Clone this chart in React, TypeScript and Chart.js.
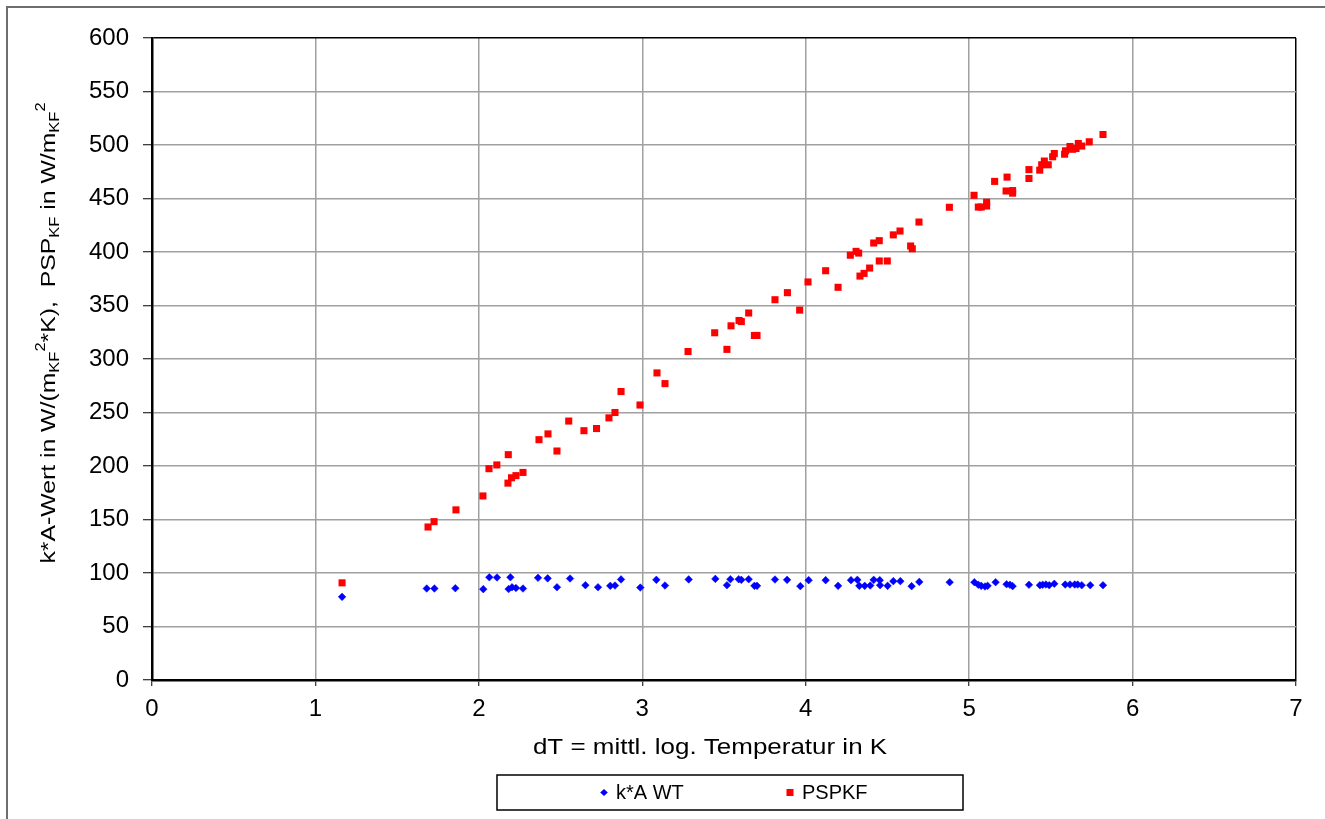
import React, { useEffect, useRef } from "react";
import { Chart, registerables } from "chart.js";

Chart.register(...registerables);

// ---------- data ----------
const kaX = [
  1.163, 1.681, 1.728, 1.856, 2.027, 2.064, 2.111, 2.193, 2.182, 2.203, 2.227, 2.27,
  2.362, 2.421, 2.478, 2.558, 2.652, 2.729, 2.804, 2.833, 2.87, 2.988, 3.086, 3.139,
  3.284, 3.447, 3.518, 3.539, 3.59, 3.606, 3.651, 3.686, 3.702, 3.812, 3.886, 3.967,
  4.018, 4.122, 4.198, 4.277, 4.316, 4.328, 4.361, 4.395, 4.416, 4.453, 4.455, 4.501,
  4.536, 4.579, 4.648, 4.695, 4.881, 5.032, 5.056, 5.074, 5.097, 5.113, 5.162, 5.229,
  5.25, 5.266, 5.366, 5.433, 5.45, 5.47, 5.49, 5.521, 5.588, 5.617, 5.646, 5.664,
  5.689, 5.741, 5.819,
];
const kaY = [
  77.7, 85.5, 85.5, 85.8, 84.9, 96, 95.8, 96, 85, 86.7, 86, 85.5,
  95.5, 95, 86.7, 94.8, 88.6, 86.7, 88, 88.3, 94, 86.4, 93.6, 88.3,
  94, 94.5, 88.6, 94.2, 94.2, 93.6, 94.2, 88, 88, 93.9, 93.6, 87.7,
  93.3, 93.3, 88, 93.3, 93.6, 88, 88, 88.3, 93.6, 93.3, 88.6, 88,
  92.4, 92.4, 87.7, 91.7, 91.4, 91.4, 89, 88, 87.4, 88, 91.4, 89.5,
  89, 87.7, 89, 88.6, 89, 89.2, 88.6, 89.9, 89.2, 89.2, 89.2, 89.2,
  88.6, 88.6, 88.6,
];

const pspX = [
  1.163, 1.689, 1.726, 1.86, 2.025, 2.062, 2.11, 2.18, 2.178, 2.2, 2.227, 2.27,
  2.368, 2.423, 2.478, 2.55, 2.643, 2.72, 2.796, 2.833, 2.87, 2.986, 3.09, 3.139,
  3.28, 3.443, 3.518, 3.543, 3.592, 3.606, 3.651, 3.686, 3.702, 3.812, 3.888, 3.963,
  4.014, 4.122, 4.198, 4.273, 4.308, 4.324, 4.332, 4.357, 4.391, 4.416, 4.45, 4.45,
  4.499, 4.536, 4.577, 4.642, 4.652, 4.693, 4.879, 5.03, 5.056, 5.074, 5.107, 5.107,
  5.156, 5.226, 5.232, 5.266, 5.266, 5.366, 5.366, 5.432, 5.444, 5.46, 5.484, 5.511,
  5.521, 5.584, 5.59, 5.617, 5.633, 5.654, 5.668, 5.689, 5.735, 5.819,
];
const pspY = [
  90.8, 143, 148, 159, 172, 197.5, 201, 210.6, 184, 189, 191, 194,
  224.6, 230, 214, 242, 233, 235, 245, 250, 269.6, 257, 287, 277,
  307, 324.5, 309, 331, 336, 335, 343, 322, 322, 355.4, 362, 345.7,
  372, 382.5, 367, 397, 400.6, 399, 377.5, 380, 385, 408.4, 410.6, 391.6,
  391.6, 416, 419.6, 405.6, 403, 428, 441.8, 453, 442, 442, 446.5, 443,
  466, 457, 470, 457.4, 455, 477, 468.7, 476.5, 481.5, 485, 481.5, 489,
  492, 491.4, 494.6, 498.6, 496, 496.7, 501.4, 499, 503, 509.8,
];

const seriesLabels = ["k*A WT", "PSPKF"];
const xTickValues = [0, 1, 2, 3, 4, 5, 6, 7];
const yTickValues = [0, 50, 100, 150, 200, 250, 300, 350, 400, 450, 500, 550, 600];
const xTitle = "dT = mittl. log. Temperatur in K";
// [text, kind]  kind: n = normal, sub = subscript, sup = superscript
const yTitleParts: [string, string][] = [
  ["k*A-Wert in W/(m", "n"],
  ["KF", "sub"],
  ["2", "sup"],
  ["*K),  PSP", "n"],
  ["KF", "sub"],
  [" in W/m", "n"],
  ["KF", "sub"],
  ["2", "sup"],
];

const FONT = '"Liberation Sans", Arial, Helvetica, sans-serif';

const decorPlugin = {
  id: "decor",
  beforeDraw(chart: any) {
    const ctx = chart.ctx;
    ctx.save();
    ctx.fillStyle = "#ffffff";
    ctx.fillRect(0, 0, chart.width, chart.height);
    ctx.strokeStyle = "#6e6e6e";
    ctx.lineWidth = 2;
    ctx.beginPath();
    ctx.moveTo(7, chart.height);
    ctx.lineTo(7, 7);
    ctx.lineTo(chart.width, 7);
    ctx.stroke();
    ctx.restore();
  },
  afterDraw(chart: any) {
    const ctx = chart.ctx;
    ctx.save();
    ctx.fillStyle = "#000";

    // x-axis title (slightly widened like the reference rendering)
    ctx.font = `22px ${FONT}`;
    ctx.textAlign = "center";
    ctx.textBaseline = "middle";
    ctx.translate(710, 748);
    ctx.scale(1.18, 1);
    ctx.fillText(xTitle, 0, 0);
    ctx.setTransform(1, 0, 0, 1, 0, 0);

    // y-axis title with sub/superscripts (rotated)
    const big = 21;
    const small = 14;
    ctx.translate(48, 333);
    ctx.rotate(-Math.PI / 2);
    ctx.scale(1.18, 1);
    ctx.textAlign = "left";
    ctx.textBaseline = "alphabetic";
    let total = 0;
    const widths: number[] = [];
    yTitleParts.forEach(([t, k]) => {
      ctx.font = `${k === "n" ? big : small}px ${FONT}`;
      const w = ctx.measureText(t).width;
      widths.push(w);
      total += w;
    });
    let x = -total / 2;
    const base = 7;
    yTitleParts.forEach(([t, k], i) => {
      ctx.font = `${k === "n" ? big : small}px ${FONT}`;
      const dy = k === "sub" ? 4 : k === "sup" ? -10 : 0;
      ctx.fillText(t, x, base + dy);
      x += widths[i];
    });
    ctx.setTransform(1, 0, 0, 1, 0, 0);

    // legend
    ctx.strokeStyle = "#000";
    ctx.lineWidth = 1.5;
    ctx.strokeRect(497, 775, 466, 35);
    const ds = chart.data.datasets;
    const cy = 792.5;
    ctx.fillStyle = ds[0].backgroundColor;
    ctx.beginPath();
    ctx.moveTo(604 - 3.8, cy);
    ctx.lineTo(604, cy - 3.6);
    ctx.lineTo(604 + 3.8, cy);
    ctx.lineTo(604, cy + 3.6);
    ctx.closePath();
    ctx.fill();
    ctx.fillStyle = ds[1].backgroundColor;
    ctx.fillRect(790 - 3.5, cy - 3.5, 7, 7);
    ctx.fillStyle = "#000";
    ctx.font = `20px ${FONT}`;
    ctx.textAlign = "left";
    ctx.textBaseline = "middle";
    ctx.fillText(ds[0].label, 616, cy + 1);
    ctx.fillText(ds[1].label, 802, cy + 1);
    ctx.restore();
  },
};

export default function App() {
  const ref = useRef<HTMLCanvasElement | null>(null);

  useEffect(() => {
    if (!ref.current) return;
    const chart = new Chart(ref.current, {
      type: "scatter",
      data: {
        datasets: [
          {
            label: seriesLabels[0],
            data: kaX.map((x, i) => ({ x, y: kaY[i] })),
            backgroundColor: "#0000ff",
            borderColor: "#0000ff",
            borderWidth: 0.5,
            pointStyle: "rectRot",
            pointRadius: 3.8,
          },
          {
            label: seriesLabels[1],
            data: pspX.map((x, i) => ({ x, y: pspY[i] })),
            backgroundColor: "#ff0000",
            borderColor: "#ff0000",
            borderWidth: 0,
            pointStyle: "rect",
            pointRadius: 5,
          },
        ],
      },
      options: {
        responsive: false,
        animation: false,
        devicePixelRatio: 1,
        events: [],
        layout: { padding: { left: 0, top: 38, right: 29, bottom: 0 } },
        plugins: {
          legend: { display: false },
          tooltip: { enabled: false },
        },
        scales: {
          x: {
            type: "linear",
            min: 0,
            max: 7,
            afterFit: (s: any) => {
              s.height = 139;
            },
            afterBuildTicks: (s: any) => {
              s.ticks = xTickValues.map((v) => ({ value: v }));
            },
            ticks: {
              color: "#000",
              font: { size: 24, family: FONT },
              padding: 9,
              maxRotation: 0,
            },
            grid: {
              color: (c: any) => (c.tick && c.tick.value === 7 ? "#000" : "#a0a0a0"),
              lineWidth: 1.5,
              tickColor: "#000",
              tickLength: 6,
              tickWidth: 1,
            },
            border: { color: "#000", width: 2.5 },
          },
          y: {
            type: "linear",
            min: 0,
            max: 600,
            afterFit: (s: any) => {
              s.width = 152;
            },
            afterBuildTicks: (s: any) => {
              s.ticks = yTickValues.map((v) => ({ value: v }));
            },
            ticks: {
              color: "#000",
              font: { size: 24, family: FONT },
              padding: 14,
            },
            grid: {
              color: (c: any) => (c.tick && c.tick.value === 600 ? "#000" : "#a0a0a0"),
              lineWidth: 1.5,
              tickColor: "#000",
              tickLength: 9,
              tickWidth: 1,
            },
            border: { color: "#000", width: 2.5 },
          },
        },
      },
      plugins: [decorPlugin],
    } as any);
    return () => chart.destroy();
  }, []);

  return (
    <div style={{ position: "absolute", left: 0, top: 0, width: 1325, height: 819, background: "#fff" }}>
      <canvas ref={ref} width={1325} height={819} style={{ display: "block" }} />
    </div>
  );
}
